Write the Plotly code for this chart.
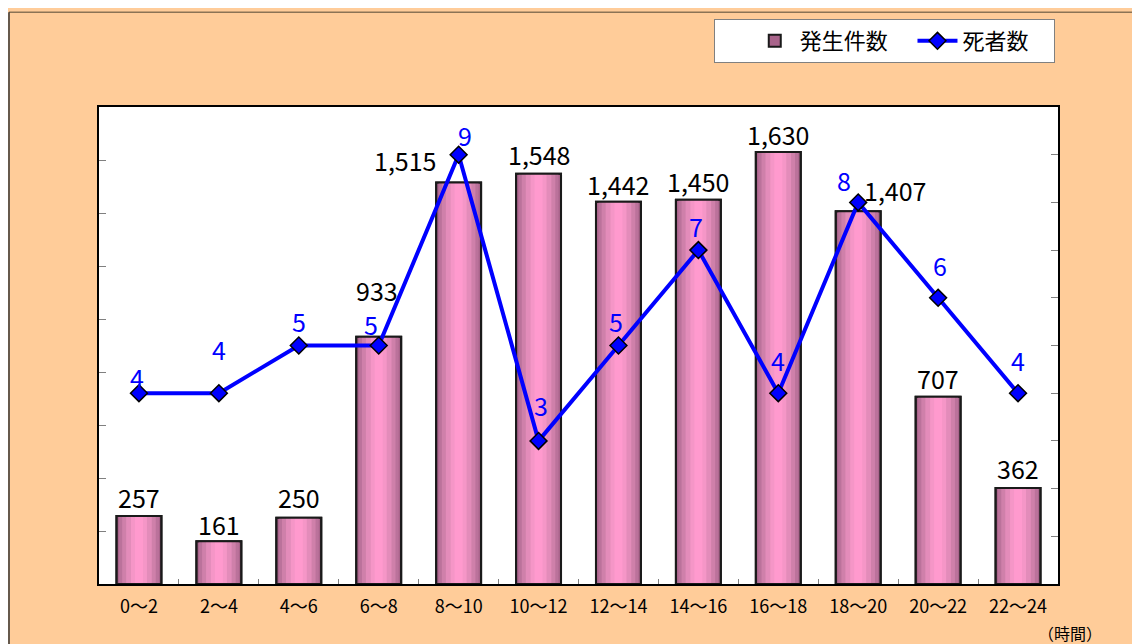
import plotly.graph_objects as go

categories = ["0～2", "2～4", "4～6", "6～8", "8～10", "10～12", "12～14",
              "14～16", "16～18", "18～20", "20～22", "22～24"]
incidents = [257, 161, 250, 933, 1515, 1548, 1442, 1450, 1630, 1407, 707, 362]
deaths = [4, 4, 5, 5, 9, 3, 5, 7, 4, 8, 6, 4]

FONT = "Noto Sans CJK JP"
NB = "\u00a0"
fig = go.Figure()

# pseudo-gradient bar layers (edge -> centre)
layers = [(0.5625, "#A9648B"), (0.50, "#BB729B"), (0.42, "#CF80AA"),
          (0.32, "#E38CBA"), (0.20, "#F596C7"), (0.10, "#FF9ACE")]
for i, (w, c) in enumerate(layers):
    fig.add_trace(go.Bar(x=categories, y=incidents, width=w,
                         marker=dict(color=c, line=dict(color="#1a1a1a", width=2 if i == 0 else 0)),
                         name="発生件数" + NB * 4, showlegend=(i == 0), hoverinfo="skip",
                         yaxis="y"))
# outline on top
fig.add_trace(go.Bar(x=categories, y=incidents, width=0.5625, name="発生件数",
                     marker=dict(color="rgba(0,0,0,0)", line=dict(color="#1a1a1a", width=2)),
                     showlegend=False, yaxis="y"))

fig.add_trace(go.Scatter(x=categories, y=deaths, name="死者数" + NB * 4, mode="lines+markers",
                         line=dict(color="#0000FF", width=4),
                         marker=dict(symbol="diamond", size=13, color="#0000FF",
                                     line=dict(color="#000000", width=1.5)),
                         yaxis="y2"))

# label offsets (pixels)
bar_lbl_dy = [19, 17, 21, 47, 23, 20, 18, 19, 18, 21, 19, 20]
bar_lbl_dx = [0, 0, 0, -2, -54, 0, 0, 0, 0, 37, 0, 0]
death_lbl_dy = [16, 44, 25, 22, 20, 36, 25, 24, 33, 22, 33, 33]
death_lbl_dx = [-2, 0, 0, -8, 6, 2, -2, -2, 0, -14, 2, 0]

for i, (c, v) in enumerate(zip(categories, incidents)):
    fig.add_annotation(x=c, y=v, yref="y", text=f"{v:,}", showarrow=False,
                       yanchor="middle", yshift=bar_lbl_dy[i], xshift=bar_lbl_dx[i],
                       font=dict(family=FONT, size=25, color="#000000"))
for i, (c, v) in enumerate(zip(categories, deaths)):
    fig.add_annotation(x=c, y=v, yref="y2", text=str(v), showarrow=False,
                       yanchor="middle", yshift=death_lbl_dy[i], xshift=death_lbl_dx[i],
                       font=dict(family=FONT, size=25, color="#0000FF"))

fig.add_annotation(x=1.012, y=-0.102, xref="paper", yref="paper", text="（時間）",
                   showarrow=False, xanchor="center", yanchor="middle",
                   font=dict(family=FONT, size=16, color="#000000"))

# outer frame lines (left / top edge of the chart)
fig.add_shape(type="line", xref="paper", yref="paper", x0=-90/959, x1=1.2,
              y0=(584-11)/478, y1=(584-11)/478, line=dict(color="#8B7355", width=1.5))
fig.add_shape(type="line", xref="paper", yref="paper", x0=-90/959, x1=-90/959,
              y0=(584-11)/478, y1=-0.2, line=dict(color="#333333", width=1.5))

fig.update_layout(
    width=1132, height=636,
    paper_bgcolor="#FFCC99", plot_bgcolor="#FFFFFF",
    margin=dict(l=91, r=82, t=98, b=60),
    barmode="overlay",
    font=dict(family=FONT, color="#000000"),
    xaxis=dict(type="category", range=[-0.5, 11.5], showline=True, linecolor="#000000",
               linewidth=1.5, mirror=True, ticks="inside", tickson="boundaries", ticklen=5,
               tickcolor="#808080", tickfont=dict(family=FONT, size=18),
               ticklabelstandoff=6, showgrid=False),
    yaxis=dict(range=[0, 1800], dtick=200, showticklabels=False, ticks="inside",
               ticklen=7, tickcolor="#808080", showline=True, linecolor="#000000",
               linewidth=1.5, showgrid=False, zeroline=False),
    yaxis2=dict(range=[0, 10], dtick=1, overlaying="y", side="right",
                showticklabels=False, ticks="inside", ticklen=7, tickcolor="#808080",
                showline=True, linecolor="#000000", linewidth=1.5,
                showgrid=False, zeroline=False),
    legend=dict(orientation="h", x=0.997, xanchor="right", y=1.182, yanchor="top",
                bgcolor="#FFFFFF", bordercolor="#808080", borderwidth=1,
                font=dict(family=FONT, size=22), traceorder="normal",
                itemwidth=40,
                title=dict(text=NB * 5, side="left", font=dict(size=22))),
    showlegend=True,
)

fig.write_html("out.html")
